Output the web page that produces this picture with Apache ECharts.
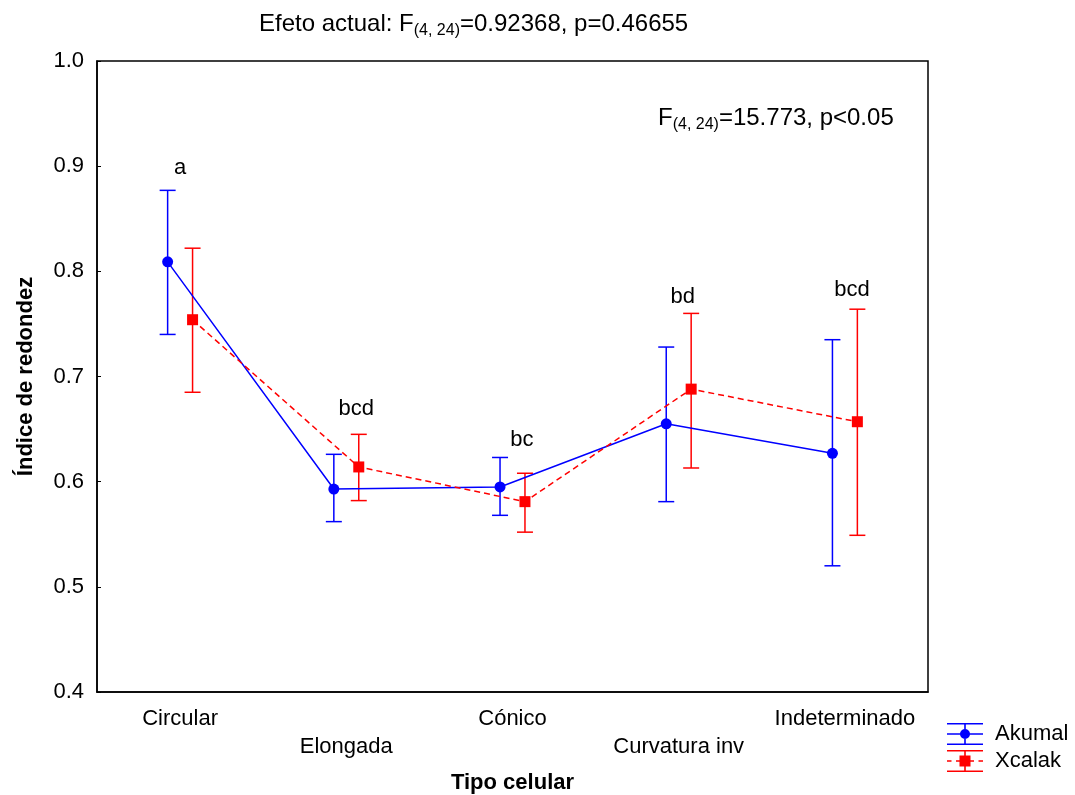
<!DOCTYPE html>
<html>
<head>
<meta charset="utf-8">
<script src="https://cdn.jsdelivr.net/npm/echarts@6/dist/echarts.min.js"></script>
<style>
html,body{margin:0;padding:0;background:#fff;}
#chart{width:1075px;height:795px;}
</style>
</head>
<body>
<div id="chart"></div>
<script>
// ---- data ----
const categories = ['Circular', 'Elongada', 'Cónico', 'Curvatura inv', 'Indeterminado'];
const seriesNames = ['Akumal', 'Xcalak'];
const akumalMean = [0.809, 0.593, 0.595, 0.655, 0.627];
const akumalHigh = [0.877, 0.626, 0.623, 0.728, 0.735];
const akumalLow  = [0.740, 0.562, 0.568, 0.581, 0.520];
const xcalakMean = [0.754, 0.614, 0.581, 0.688, 0.657];
const xcalakHigh = [0.822, 0.645, 0.608, 0.760, 0.764];
const xcalakLow  = [0.685, 0.582, 0.552, 0.613, 0.549];
const letterLabels = ['a', 'bcd', 'bc', 'bd', 'bcd'];
const letterX = [0.0, 1.06, 2.057, 3.024, 4.042];
const letterY = [0.898, 0.669, 0.640, 0.776, 0.782];
const yTicks = [0.4, 0.5, 0.6, 0.7, 0.8, 0.9, 1.0];
const titleParts = ['Efeto actual: F', '(4, 24)', '=0.92368, p=0.46655'];
const noteParts = ['F', '(4, 24)', '=15.773, p<0.05'];
const xAxisTitle = 'Tipo celular';
const yAxisTitle = 'Índice de redondez';

// ---- rendering ----
const FONT = 'Liberation Sans, Arial, sans-serif';
const BLUE = '#0000FF', RED = '#FF0000';
const OFF = 0.075;

function pts(means, dx) { return means.map((v, i) => [i + dx, v]); }
function errs(lo, hi, dx) { return lo.map((v, i) => [i + dx, v, hi[i]]); }

function errRender(color) {
  return function (params, api) {
    const x = api.value(0), lo = api.value(1), hi = api.value(2);
    const pH = api.coord([x, hi]), pL = api.coord([x, lo]);
    const hw = 8;
    const style = { stroke: color, lineWidth: 1.5 };
    return {
      type: 'group', children: [
        { type: 'line', shape: { x1: pH[0], y1: pH[1], x2: pL[0], y2: pL[1] }, style },
        { type: 'line', shape: { x1: pH[0] - hw, y1: pH[1], x2: pH[0] + hw, y2: pH[1] }, style },
        { type: 'line', shape: { x1: pL[0] - hw, y1: pL[1], x2: pL[0] + hw, y2: pL[1] }, style }
      ]
    };
  };
}

const richMain = { fontSize: 24, fontFamily: FONT, fontWeight: 'normal', color: '#000' };
const richSub = { fontSize: 16, fontFamily: FONT, fontWeight: 'normal', color: '#000', padding: [13, 0, 0, 0] };

const iconAk = 'path://M0,0H36V1.6H0Z M0,20.4H36V22H0Z M0,10.2H36V11.8H0Z M17.2,0H18.8V22H17.2Z M13,11A5,5,0,1,1,23,11A5,5,0,1,1,13,11Z';
const iconXc = 'path://M0,0H36V1.6H0Z M0,20.4H36V22H0Z M0,10.2H4.5V11.8H0Z M9,10.2H13V11.8H9Z M23,10.2H27V11.8H23Z M31.5,10.2H36V11.8H31.5Z M17.2,0H18.8V22H17.2Z M12.5,5.5H23.5V16.5H12.5Z';

const chart = echarts.init(document.getElementById('chart'));
chart.setOption({
  animation: false,
  backgroundColor: '#fff',
  title: [
    {
      text: '{m|' + titleParts[0] + '}{s|' + titleParts[1] + '}{m|' + titleParts[2] + '}',
      left: 259, top: 10, padding: 0,
      textStyle: { fontWeight: 'normal', rich: { m: richMain, s: richSub } }
    },
    {
      text: '{m|' + noteParts[0] + '}{s|' + noteParts[1] + '}{m|' + noteParts[2] + '}',
      left: 658, top: 104, padding: 0,
      textStyle: { fontWeight: 'normal', rich: { m: richMain, s: richSub } }
    }
  ],
  legend: {
    orient: 'vertical', left: 947, top: 723, padding: 0,
    itemWidth: 36, itemHeight: 22, itemGap: 5,
    itemStyle: { borderWidth: 0 },
    textStyle: { fontSize: 22, fontFamily: FONT, color: '#000', padding: [0, 0, 0, 7] },
    data: [{ name: seriesNames[0], icon: iconAk }, { name: seriesNames[1], icon: iconXc }]
  },
  grid: {
    left: 97, right: 147, top: 61, bottom: 103, containLabel: false, outerBoundsMode: 'none',
    show: true, borderColor: '#000', borderWidth: 1.5, backgroundColor: 'transparent'
  },
  xAxis: [
    {
      type: 'category', data: categories, boundaryGap: true,
      axisLine: { onZero: false, lineStyle: { color: '#000', width: 1.5 } },
      axisTick: { inside: true, length: 5, alignWithLabel: true, lineStyle: { color: '#000' } },
      axisLabel: {
        color: '#000', fontSize: 22, fontFamily: FONT, margin: 13, lineHeight: 28, interval: 0,
        formatter: (v, i) => (i % 2 === 1 ? '\n' + v : v)
      },
      name: xAxisTitle, nameLocation: 'middle', nameGap: 80,
      nameTextStyle: { fontSize: 22, fontWeight: 'bold', fontFamily: FONT, color: '#000' }
    },
    { type: 'value', min: -0.5, max: 4.5, show: false }
  ],
  yAxis: {
    type: 'value', min: yTicks[0], max: yTicks[yTicks.length - 1], interval: 0.1,
    axisLine: { show: true, onZero: false, lineStyle: { color: '#000', width: 1.5 } },
    axisTick: { show: true, inside: true, length: 4, lineStyle: { color: '#000' } },
    splitLine: { show: false },
    axisLabel: { color: '#000', fontSize: 22, fontFamily: FONT, margin: 13, formatter: v => v.toFixed(1) },
    name: yAxisTitle, nameLocation: 'middle', nameGap: 60,
    nameTextStyle: { fontSize: 22, fontWeight: 'bold', fontFamily: FONT, color: '#000' }
  },
  series: [
    {
      name: seriesNames[0], type: 'line', xAxisIndex: 1, data: pts(akumalMean, -OFF),
      symbol: 'circle', symbolSize: 11, color: BLUE, z: 5,
      lineStyle: { color: BLUE, width: 1.5 }, itemStyle: { color: BLUE }
    },
    {
      name: seriesNames[1], type: 'line', xAxisIndex: 1, data: pts(xcalakMean, OFF),
      symbol: 'rect', symbolSize: 11, color: RED, z: 5,
      lineStyle: { color: RED, width: 1.5, type: [6, 4] }, itemStyle: { color: RED }
    },
    {
      name: seriesNames[0], type: 'custom', xAxisIndex: 1, z: 3,
      data: errs(akumalLow, akumalHigh, -OFF), encode: { x: 0, y: [1, 2] },
      renderItem: errRender(BLUE), itemStyle: { color: BLUE }
    },
    {
      name: seriesNames[1], type: 'custom', xAxisIndex: 1, z: 3,
      data: errs(xcalakLow, xcalakHigh, OFF), encode: { x: 0, y: [1, 2] },
      renderItem: errRender(RED), itemStyle: { color: RED }
    },
    {
      name: 'letters', type: 'custom', xAxisIndex: 1, z: 6,
      data: letterX.map((x, i) => [x, letterY[i]]), encode: { x: 0, y: 1 },
      renderItem: function (params, api) {
        const p = api.coord([api.value(0), api.value(1)]);
        return {
          type: 'text', x: p[0], y: p[1],
          style: { text: letterLabels[params.dataIndex], align: 'center', verticalAlign: 'middle', fontSize: 22, fontFamily: FONT, fill: '#000' }
        };
      }
    }
  ]
});
</script>
</body>
</html>
